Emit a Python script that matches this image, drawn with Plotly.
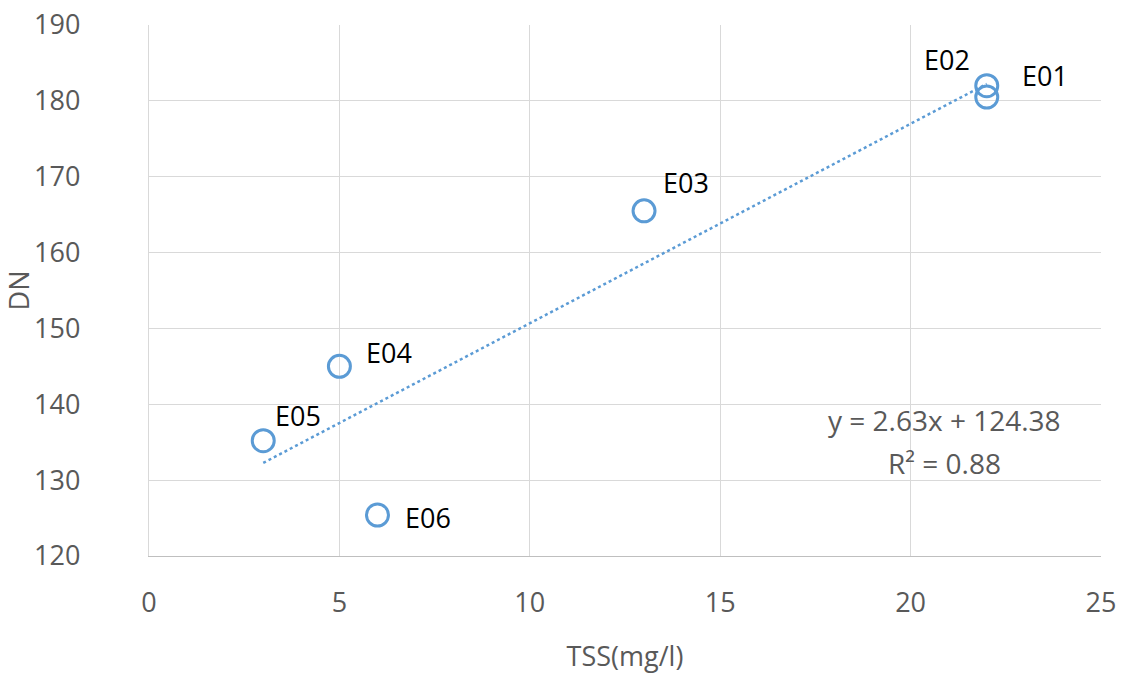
import plotly.graph_objects as go

labels = ["E01", "E02", "E03", "E04", "E05", "E06"]
tss = [22, 22, 13, 5, 3, 6]
dn = [180.5, 182.0, 165.5, 145.0, 135.2, 125.4]
slope = 2.63
intercept = 124.38
r2 = 0.88

# label offsets in pixels (dx, dy) relative to each point
label_dx = [58, -40, 42, 50, 35, 51]
label_dy = [22, 26, 28, 14, 25, -2]

blue = "#5B9BD5"
gray = "#595959"
grid = "#D9D9D9"
font = "Open Sans"
fs = 27

x_tr = [min(tss), max(tss)]
y_tr = [slope * v + intercept for v in x_tr]

fig = go.Figure()
fig.add_trace(go.Scatter(x=x_tr, y=y_tr, mode="lines",
                         line=dict(color=blue, width=2.5, dash="dot"),
                         hoverinfo="skip", showlegend=False))
fig.add_trace(go.Scatter(x=tss, y=dn, mode="markers",
                         marker=dict(symbol="circle-open", size=22, color=blue,
                                     line=dict(width=3, color=blue)),
                         showlegend=False))

for lab, xv, yv, dx, dy in zip(labels, tss, dn, label_dx, label_dy):
    fig.add_annotation(x=xv, y=yv, text=lab, showarrow=False,
                       xshift=dx, yshift=dy,
                       font=dict(family=font, size=fs, color="#000000"))

fig.add_annotation(x=20.88, y=137.9, text=f"y = {slope}x + {intercept}",
                   showarrow=False, font=dict(family=font, size=fs + 1, color=gray))
fig.add_annotation(x=20.88, y=132.3, text=f"R² = {r2}",
                   showarrow=False, font=dict(family=font, size=fs + 1, color=gray))

fig.update_layout(
    width=1128, height=677,
    margin=dict(l=149, r=27, t=25, b=121),
    paper_bgcolor="white", plot_bgcolor="white",
    font=dict(family=font, color=gray),
    xaxis=dict(range=[0, 25], dtick=5, showgrid=True, gridcolor=grid, gridwidth=1.3,
               zeroline=False, showline=True, linecolor="#BFBFBF", linewidth=1.3,
               ticks="outside", ticklen=22, tickcolor="rgba(0,0,0,0)",
               ticklabeloverflow="allow", automargin=False,
               tickfont=dict(size=fs, color=gray),
               title=dict(text="TSS(mg/l)", font=dict(size=fs, color=gray), standoff=28)),
    yaxis=dict(range=[120, 190], dtick=10, showgrid=True, gridcolor=grid, gridwidth=1.3,
               zeroline=False, showline=True, linecolor=grid, linewidth=1.3,
               ticks="outside", ticklen=62, tickcolor="rgba(0,0,0,0)",
               ticklabeloverflow="allow", automargin=False,
               tickfont=dict(size=fs, color=gray),
               title=dict(text="DN", font=dict(size=fs, color=gray), standoff=9)),
)

fig.write_html("out.html", config={"displayModeBar": False},
               post_script="document.body.style.margin='0';")
